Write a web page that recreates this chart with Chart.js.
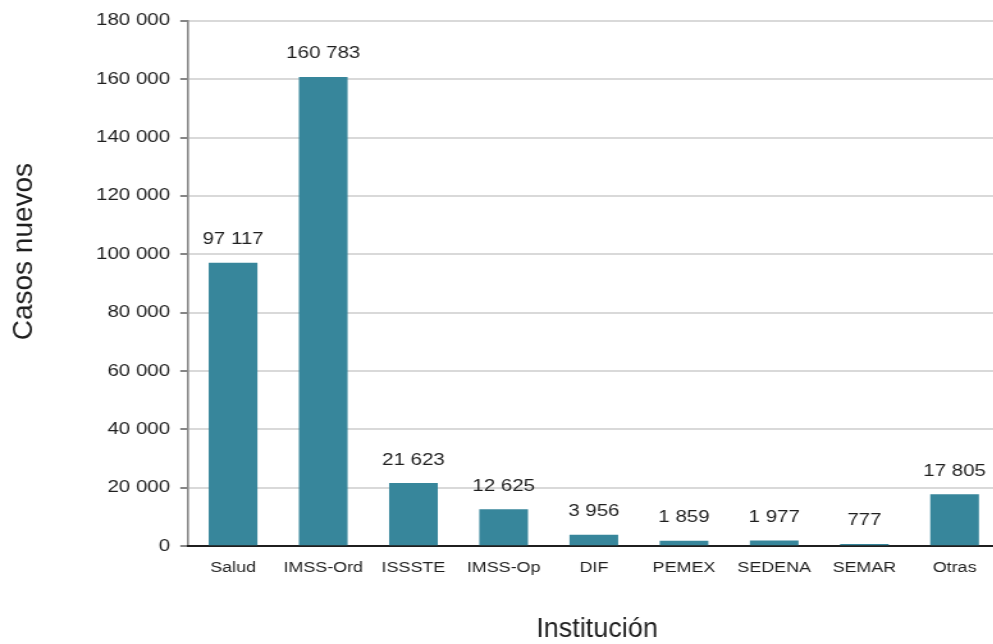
<!DOCTYPE html>
<html>
<head>
<meta charset="utf-8">
<script src="https://cdn.jsdelivr.net/npm/chart.js@4"></script>
<style>
  html, body { margin: 0; padding: 0; background: #fff; overflow: hidden; }
  /* the reference tick text looks stretched sideways, so the chart is drawn narrow and widened */
  #chart { display: block; transform: scaleX(1.28); transform-origin: 0 0; }
</style>
</head>
<body>
<canvas id="chart" width="781" height="644"></canvas>
<script>
// data
const categories = ['Salud', 'IMSS-Ord', 'ISSSTE', 'IMSS-Op', 'DIF', 'PEMEX', 'SEDENA', 'SEMAR', 'Otras'];
const casosNuevos = [97117, 160783, 21623, 12625, 3956, 1859, 1977, 777, 17805];
const yMax = 180000;
const yStep = 20000;

const STRETCH = 1.28;
const FONT = '"Liberation Sans", Arial, sans-serif';
const TEXT = '#1f1f1f';

function fmt(v) {
    return String(v).replace(/\B(?=(\d{3})+(?!\d))/g, ' ');
}

// value labels above each bar
const barLabels = {
    id: 'barLabels',
    afterDatasetsDraw(chart) {
        const ctx = chart.ctx;
        const meta = chart.getDatasetMeta(0);
        ctx.save();
        ctx.font = '16px ' + FONT;
        ctx.fillStyle = TEXT;
        ctx.textAlign = 'center';
        ctx.textBaseline = 'bottom';
        meta.data.forEach((bar, i) => {
            ctx.fillText(fmt(casosNuevos[i]), bar.x, bar.y - 15);
        });
        ctx.restore();
    }
};

// axis titles are not stretched in the reference, so undo the widening for them
const axisTitles = {
    id: 'axisTitles',
    afterDraw(chart) {
        const ctx = chart.ctx;
        const area = chart.chartArea;
        ctx.save();
        ctx.fillStyle = TEXT;
        ctx.textAlign = 'center';
        ctx.textBaseline = 'middle';

        ctx.save();
        ctx.font = '28px ' + FONT;
        ctx.translate(24 / STRETCH, (area.top + area.bottom) / 2 - 32);
        ctx.scale(1 / STRETCH, 1);
        ctx.rotate(-Math.PI / 2);
        ctx.fillText('Casos nuevos', 0, 0);
        ctx.restore();

        ctx.save();
        ctx.font = '27px ' + FONT;
        ctx.translate(597 / STRETCH, area.bottom + 83);
        ctx.scale(1 / STRETCH, 1);
        ctx.fillText('Institución', 0, 0);
        ctx.restore();

        ctx.restore();
    }
};

const ctx = document.getElementById('chart').getContext('2d');
const chart = new Chart(ctx, {
    type: 'bar',
    data: {
        labels: categories,
        datasets: [{
            data: casosNuevos,
            backgroundColor: '#37869b',
            barPercentage: 0.54,
            categoryPercentage: 1.0
        }]
    },
    options: {
        responsive: false,
        animation: false,
        layout: {
            padding: { top: 21, right: 0, bottom: 61, left: 67 }
        },
        plugins: {
            legend: { display: false },
            tooltip: { enabled: false }
        },
        scales: {
            y: {
                min: 0,
                max: yMax,
                ticks: {
                    stepSize: yStep,
                    color: TEXT,
                    padding: 8,
                    font: { family: FONT, size: 16 },
                    callback: v => fmt(v)
                },
                grid: {
                    color: '#d9d9d9',
                    lineWidth: 2,
                    tickColor: '#868686',
                    tickLength: 6
                },
                border: { color: '#868686', width: 1.6 }
            },
            x: {
                ticks: {
                    color: TEXT,
                    padding: 6,
                    maxRotation: 0,
                    font: { family: FONT, size: 14 }
                },
                grid: { display: false },
                border: { color: '#1f1f1f', width: 2 }
            }
        }
    },
    plugins: [barLabels, axisTitles]
});
</script>
</body>
</html>
